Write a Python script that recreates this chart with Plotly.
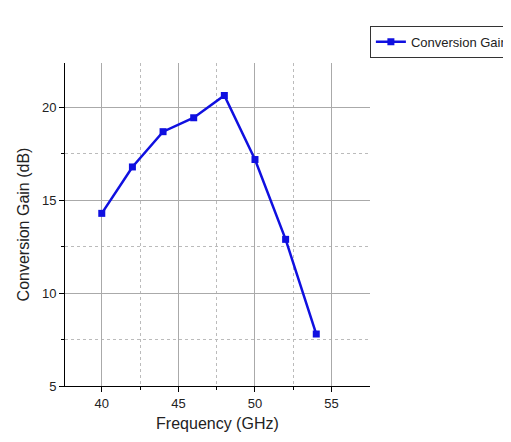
import plotly.graph_objects as go

freq = [40, 42, 44, 46, 48, 50, 52, 54]
gain = [14.3, 16.8, 18.7, 19.45, 20.65, 17.2, 12.9, 7.8]

fig = go.Figure()
fig.add_trace(go.Scatter(x=freq, y=gain, mode='lines+markers', name='Conversion Gain',
                         line=dict(color='#1010e0', width=2.5),
                         marker=dict(symbol='square', size=7, color='#1010e0')))

fig.update_layout(
    width=511, height=442,
    paper_bgcolor='white', plot_bgcolor='white',
    margin=dict(l=57, r=53, t=55, b=64),
    font=dict(family='Liberation Sans, Arial', size=13, color='#222'),
    showlegend=True,
    legend=dict(xref='container', yref='container', x=0.99, y=0.96,
                xanchor='right', yanchor='top',
                bordercolor='#333', borderwidth=1, font=dict(size=13)),
    xaxis=dict(title=dict(text='Frequency (GHz)', standoff=8), range=[37.6, 57.5],
               automargin=False,
               tickvals=[40, 45, 50, 55], showline=True, linecolor='black', linewidth=1,
               ticks='outside', ticklen=5, tickcolor='black',
               showgrid=True, gridcolor='#aaa', gridwidth=1, zeroline=False,
               minor=dict(tickvals=[42.5, 47.5, 52.5], showgrid=True, gridcolor='#bbb',
                          griddash='dot', ticks='outside', ticklen=3, tickcolor='black')),
    yaxis=dict(title=dict(text='Conversion Gain (dB)', standoff=8), range=[5, 22.4],
               automargin=False,
               tickvals=[5, 10, 15, 20], showline=True, linecolor='black', linewidth=1,
               ticks='outside', ticklen=5, tickcolor='black',
               showgrid=True, gridcolor='#aaa', gridwidth=1, zeroline=False,
               minor=dict(tickvals=[7.5, 12.5, 17.5], showgrid=True, gridcolor='#bbb',
                          griddash='dot', ticks='outside', ticklen=3, tickcolor='black')),
)

fig.write_html("out.html")
